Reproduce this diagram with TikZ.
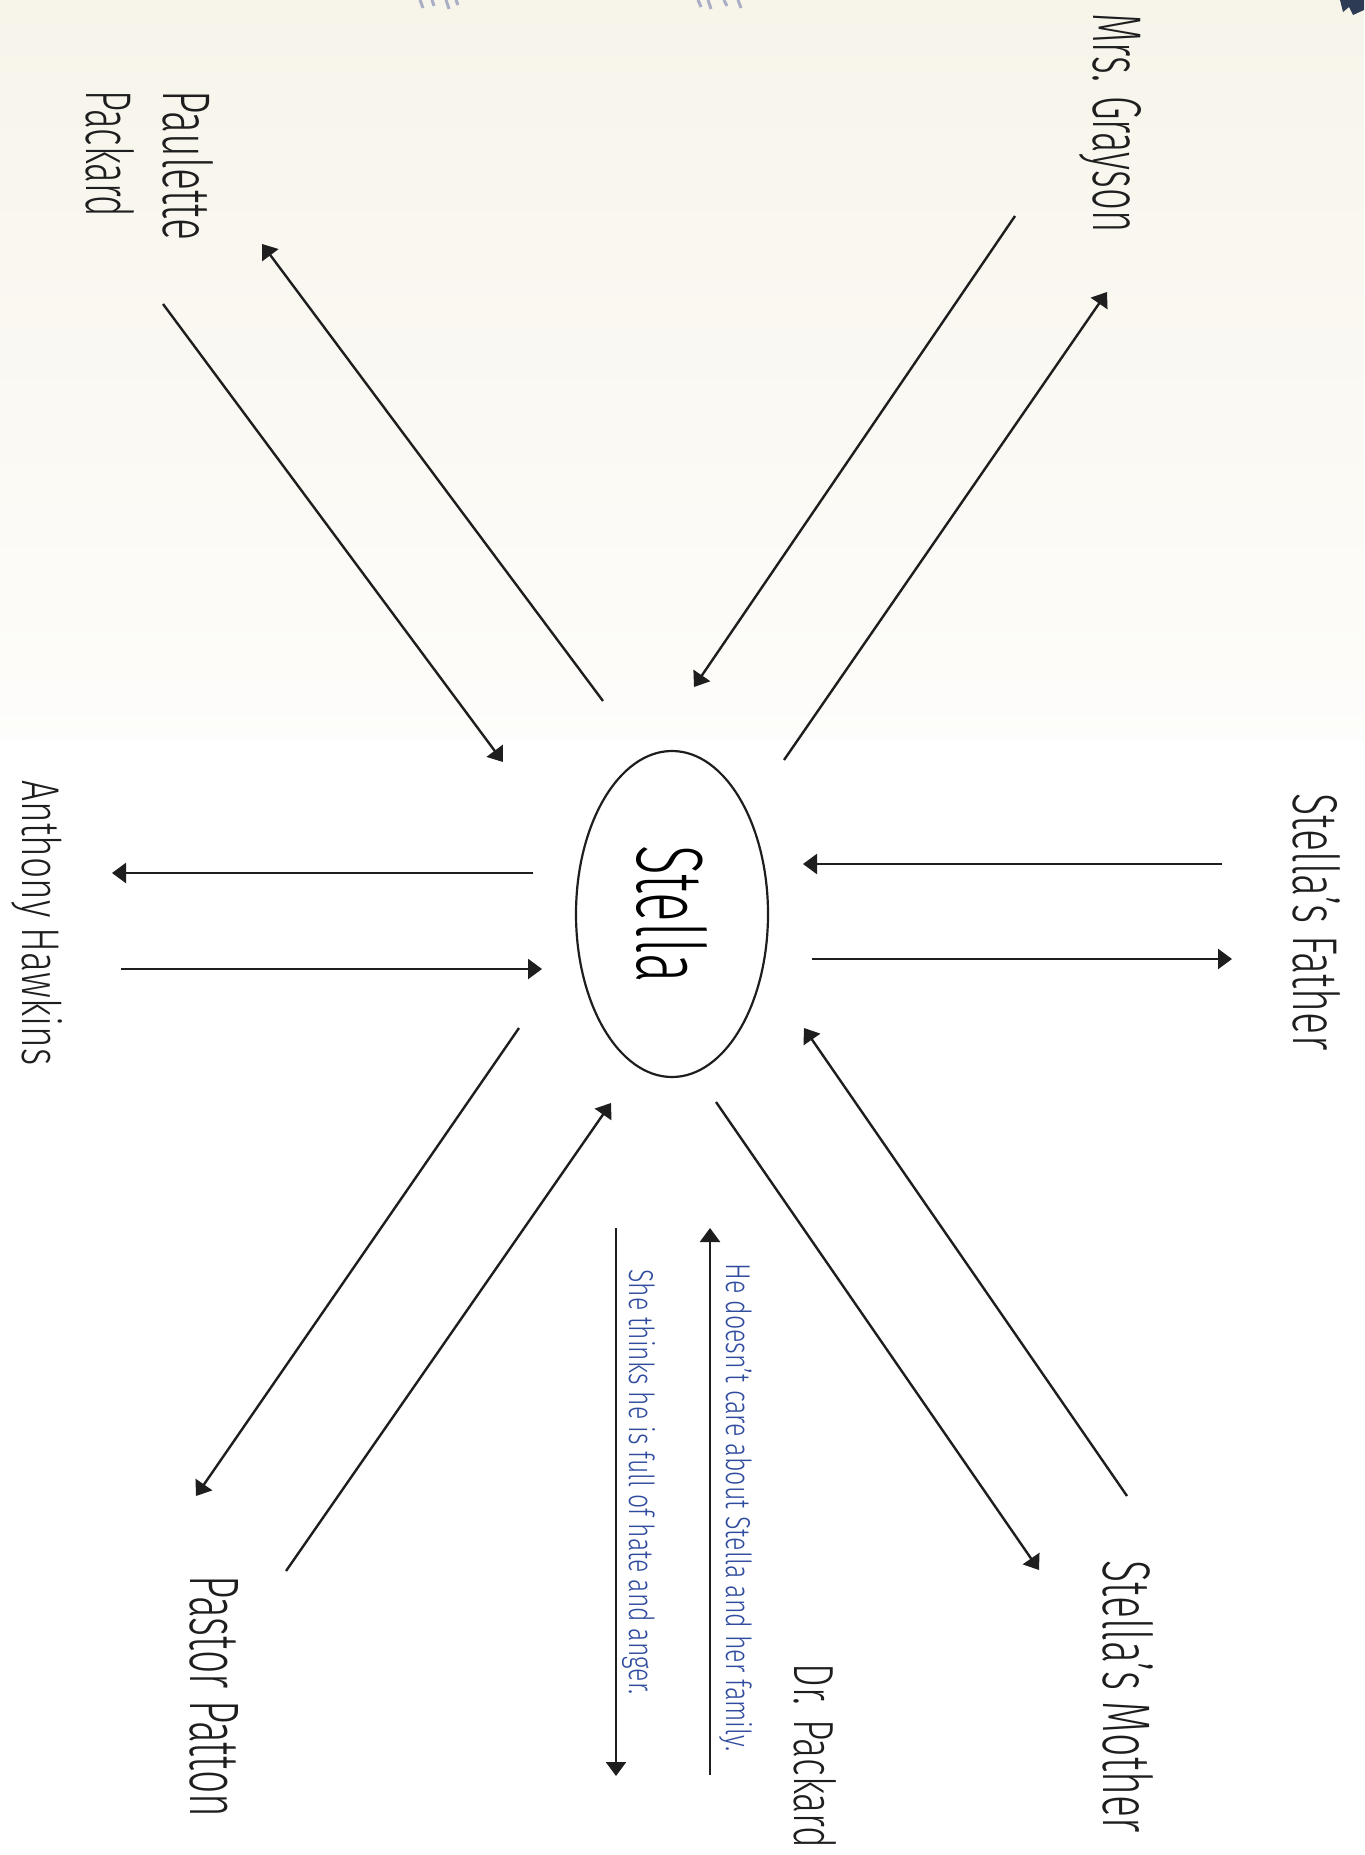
\documentclass[tikz,border=0pt]{standalone}
\usepackage{fontspec}
\setmainfont{Fira Sans}[UprightFont=* Light]
\usetikzlibrary{arrows.meta,shapes.geometric}
\definecolor{mapink}{HTML}{1E1E1E}
\definecolor{mapblue}{HTML}{2F4B9E}
\definecolor{mappaper}{HTML}{F7F4EA}
\definecolor{mapsmudge}{HTML}{A9AEC4}
\definecolor{mapdark}{HTML}{2E3B55}
% squeeze a text to a given length and cap height
\newcommand{\fit}[3]{\resizebox{#1}{#2}{#3}}
\tikzset{
  >={Triangle[length=7pt,width=10pt]},
  hub/.style={draw=mapink,line width=1.1pt,ellipse,rotate=-90,minimum width=163pt,
              minimum height=96pt,inner sep=0pt,font=\fontsize{49}{55}\selectfont},
  who/.style={rotate=-90,anchor=base west,inner sep=0pt,text=mapink,align=left,
              font=\fontsize{33.5}{38.5}\selectfont},
  note/.style={rotate=-90,anchor=base west,inner sep=0pt,text=mapblue,
               font=\fontsize{18}{20}\selectfont},
  flow/.style={->,line width=1.2pt,draw=mapink},
  streak/.style={draw=mapsmudge,line width=1.5pt},
}

\begin{document}
\begin{tikzpicture}[x=0.5pt,y=-0.5pt]
  \useasboundingbox (0,0) rectangle (1364,1855);
  \fill[top color=mappaper,bottom color=mappaper!20] (0,0) rectangle (1364,740);
  \fill[white] (0,740) rectangle (1364,1855);

  % bits of a cut-off picture along the top edge
  \draw[streak] (420,0) -- (423,8) (432,0) -- (434,6) (446,0) -- (449,9) (456,0) -- (458,5);
  \draw[streak] (698,0) -- (701,7) (708,0) -- (711,9) (724,0) -- (727,6) (738,0) -- (741,8);
  \fill[mapdark] (1340,0) -- (1343,12) -- (1349,7) -- (1353,15) -- (1364,10) -- (1364,0) -- cycle;

  \node[hub] (stella) at (672,914) {\fit{69pt}{35pt}{Stella}};

  % the people round her
  \node[who] (grayson) at (1093,13) {\fit{109.5pt}{24pt}{Mrs. Grayson}};
  \node[who] (paulette) at (86,90) {\fit{75pt}{25pt}{Paulette}\\\fit{63.5pt}{24pt}{Packard}};
  \node[who] (hawkins) at (23,780) {\fit{142.5pt}{20pt}{Anthony Hawkins}};
  \node[who] (father) at (1293,793) {\fit{128.5pt}{23.5pt}{Stella's Father}};
  \node[who] (mother) at (1103,1560) {\fit{136pt}{25pt}{Stella's Mother}};
  \node[who] (patton) at (190,1575) {\fit{121pt}{24pt}{Pastor Patton}};
  \node[who] (drpackard) at (794,1663) {\fit{92.5pt}{21pt}{Dr. Packard}};

  % what they think of each other
  \node[note] (careless) at (726,1263) {\fit{244pt}{13pt}{He doesn't care about Stella and her family.}};
  \node[note] (hateful) at (629,1269) {\fit{212.5pt}{13pt}{She thinks he is full of hate and anger.}};

  % loose ends of the arrows
  \coordinate (pa1) at (603,701);  \coordinate (pa2) at (262,244);
  \coordinate (pb1) at (163,304);  \coordinate (pb2) at (503,762);
  \coordinate (gc1) at (1015,216); \coordinate (gc2) at (694,687);
  \coordinate (gd1) at (784,760);  \coordinate (gd2) at (1107,292);
  \coordinate (fe1) at (1222,864); \coordinate (fe2) at (803,864);
  \coordinate (ff1) at (812,959);  \coordinate (ff2) at (1232,959);
  \coordinate (mg1) at (1127,1496);\coordinate (mg2) at (804,1028);
  \coordinate (mh1) at (716,1102); \coordinate (mh2) at (1039,1570);
  \coordinate (pi1) at (519,1028); \coordinate (pi2) at (196,1496);
  \coordinate (pj1) at (286,1571); \coordinate (pj2) at (611,1103);
  \coordinate (hk1) at (533,873);  \coordinate (hk2) at (112,873);
  \coordinate (hl1) at (121,969);  \coordinate (hl2) at (542,969);
  \coordinate (dm1) at (710,1775); \coordinate (dm2) at (710,1228);
  \coordinate (dn1) at (616,1228); \coordinate (dn2) at (616,1776);

  \draw[flow] (pa1) -- (pa2);
  \draw[flow] (pb1) -- (pb2);
  \draw[flow] (gc1) -- (gc2);
  \draw[flow] (gd1) -- (gd2);
  \draw[flow] (fe1) -- (fe2);
  \draw[flow] (ff1) -- (ff2);
  \draw[flow] (mg1) -- (mg2);
  \draw[flow] (mh1) -- (mh2);
  \draw[flow] (pi1) -- (pi2);
  \draw[flow] (pj1) -- (pj2);
  \draw[flow] (hk1) -- (hk2);
  \draw[flow] (hl1) -- (hl2);
  \draw[flow] (dm1) -- (dm2);
  \draw[flow] (dn1) -- (dn2);
\end{tikzpicture}
\end{document}
